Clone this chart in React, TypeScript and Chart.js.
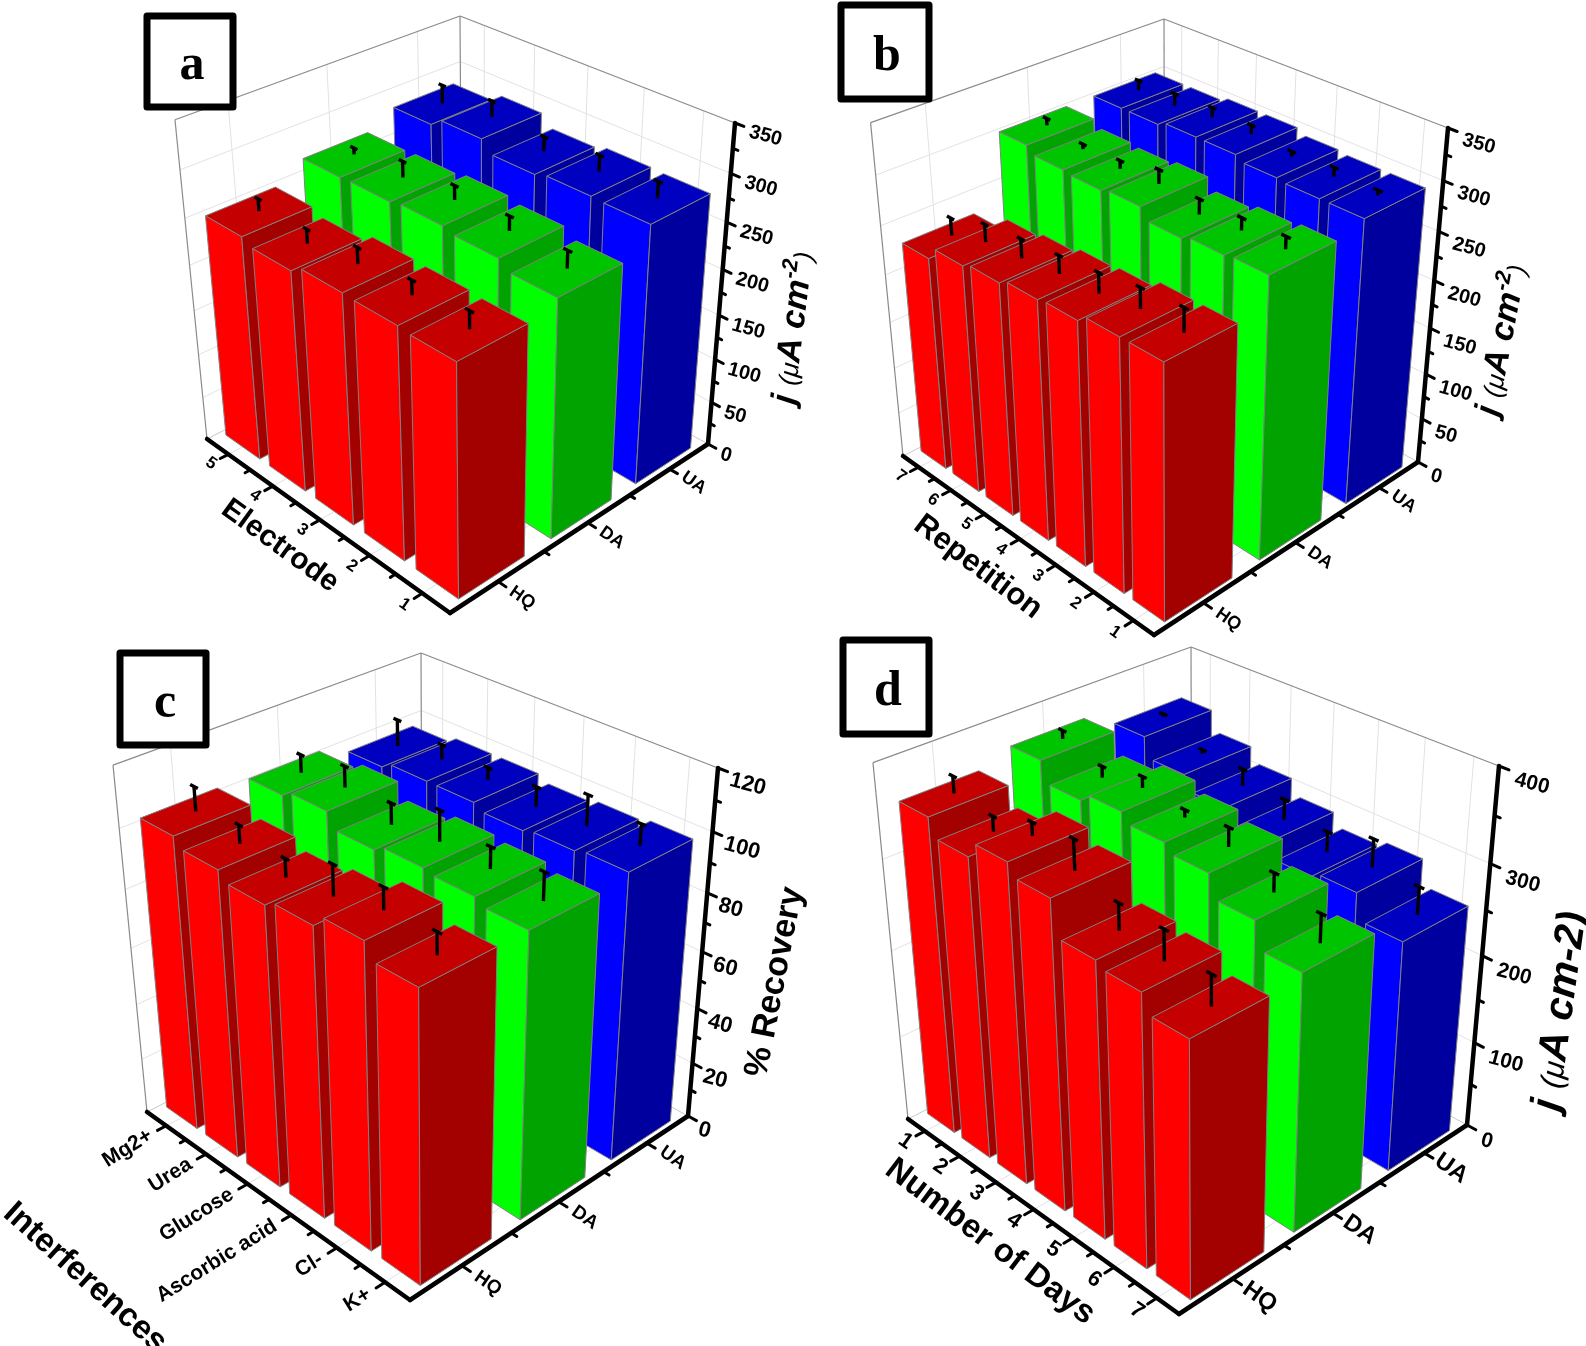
import React, { useEffect, useRef } from "react";
import { Chart, registerables } from "chart.js";

Chart.register(...registerables);

const seriesLabels = ["HQ", "DA", "UA"];
const barColors = [
  ["#ff0000", "#c40000", "#a30000"],
  ["#00ff00", "#00c400", "#00a300"],
  ["#0000ff", "#0000c0", "#00009f"],
];

const electrodes = ["1", "2", "3", "4", "5"];
const aHQ = [248, 250, 251, 243, 249];
const aDA = [258, 267, 271, 268, 267];
const aUA = [283, 284, 280, 292, 283];
const aHQErr = [18, 15, 17, 15, 13];
const aDAErr = [18, 15, 15, 17, 7];
const aUAErr = [17, 17, 15, 17, 20];

const repetitions = ["1", "2", "3", "4", "5", "6", "7"];
const bHQ = [259, 259, 252, 250, 245, 241, 228];
const bDA = [289, 287, 283, 294, 291, 293, 300];
const bUA = [297, 297, 299, 304, 304, 300, 300];
const bHQErr = [23, 20, 20, 18, 19, 18, 18];
const bDAErr = [12, 12, 15, 14, 8, 5, 7];
const bUAErr = [5, 9, 5, 9, 10, 12, 10];

const interferences = ["Mg2+", "Urea", "Glucose", "Ascorbic acid", "Cl-", "K+"];
const cHQ = [102, 99, 96, 98, 102, 97];
const cDA = [101, 103, 98, 100, 99, 97];
const cUA = [97, 99, 99, 97, 98, 99];
const cHQErr = [8, 6, 6, 10, 7, 7];
const cDAErr = [6, 7, 7, 10, 7, 9];
const cUAErr = [9, 5, 4, 6.5, 10, 7];

const days = ["1", "2", "3", "4", "5", "6", "7"];
const dHQ = [356, 337, 354, 341, 304, 298, 279];
const dDA = [369, 347, 356, 346, 337, 313, 285];
const dUA = [351, 329, 313, 296, 282, 288, 260];
const dHQErr = [18, 16, 14, 32, 28, 32, 32];
const dDAErr = [9, 12, 12, 8, 20, 20, 30];
const dUAErr = [3, 4, 18, 22, 22, 30, 30];

type Pt = [number, number];

// page layout of each panel: where the 3D box sits, titles and fonts
const panels: any[] = [
  {
    letter: "a", rect: [0, 0, 830, 645], box: [147, 16, 233, 107],
    front: [450, 613], left: [207, 439], right: [708, 444], topLeft: [175, 120], topRight: [735, 123], topBack: [460, 16],
    labels: electrodes, reverse: false, max: 350, step: 50,
    values: [aHQ, aDA, aUA], errs: [aHQErr, aDAErr, aUAErr],
    catTitle: "Electrode", catPos: [280, 546], catDeg: 36, catSize: 30,
    yTitle: { pos: [794, 405], deg: -83, size: 34, sup: true },
    sizes: { value: 20, cat: 17, series: 18 }, catAngle: 35, catOff: -0.06, valueOff: -0.045, valueDy: 3,
  },
  {
    letter: "b", rect: [830, 0, 756, 645], box: [841, 5, 929, 99],
    front: [1154, 635], left: [903, 456], right: [1418, 462], topLeft: [871, 127], topRight: [1448, 128], topBack: [1164, 19],
    labels: repetitions, reverse: false, max: 350, step: 50,
    values: [bHQ, bDA, bUA], errs: [bHQErr, bDAErr, bUAErr],
    catTitle: "Repetition", catPos: [978, 567], catDeg: 37, catSize: 31,
    yTitle: { pos: [1497, 417], deg: -79, size: 34, sup: true },
    sizes: { value: 20, cat: 17, series: 18 }, catAngle: 35, catOff: -0.06, valueOff: -0.045, valueDy: 6,
  },
  {
    letter: "c", rect: [0, 630, 840, 716], box: [120, 653, 206, 745],
    front: [410, 1300], left: [147, 1112], right: [688, 1116], topLeft: [113, 765], topRight: [718, 768], topBack: [421, 653],
    labels: interferences, reverse: true, max: 120, step: 20,
    values: [cHQ, cDA, cUA], errs: [cHQErr, cDAErr, cUAErr],
    catTitle: "Interferences", catPos: [85, 1278], catDeg: 42, catSize: 33,
    recovery: { pos: [775, 982], deg: -79, size: 34 },
    sizes: { value: 22, cat: 21, series: 19 }, catAngle: -32, catRight: true, catOff: -0.05, valueOff: -0.035, valueDy: 7,
  },
  {
    letter: "d", rect: [800, 630, 786, 716], box: [843, 640, 929, 734],
    front: [1179, 1314], left: [908, 1119], right: [1467, 1125], topLeft: [873, 763], topRight: [1499, 766], topBack: [1191, 647],
    labels: days, reverse: true, max: 400, step: 100,
    values: [dHQ, dDA, dUA], errs: [dHQErr, dDAErr, dUAErr],
    catTitle: "Number of Days", catPos: [990, 1242], catDeg: 37, catSize: 33,
    yTitle: { pos: [1558, 1112], deg: -82, size: 41, sup: false },
    sizes: { value: 21, cat: 22, series: 24 }, catAngle: 35, catOff: -0.06, valueOff: -0.045, valueDy: 7,
  },
];

// floor quad + vanishing point of the verticals -> (u, v, w) to screen
function makeProjection(p: any) {
  const [O, U, V] = [p.front as Pt, p.left as Pt, p.right as Pt];
  const a1 = (p.topLeft[0] - U[0]) / (p.topLeft[1] - U[1]);
  const a2 = (p.topRight[0] - V[0]) / (p.topRight[1] - V[1]);
  const vpY = (V[0] - a2 * V[1] - U[0] + a1 * U[1]) / (a1 - a2);
  const vpX = U[0] + a1 * (vpY - U[1]);
  const build = (by: number) => {
    const bx = p.topBack[0] + ((vpX - p.topBack[0]) * (by - p.topBack[1])) / (vpY - p.topBack[1]);
    const dx1 = U[0] - bx, dx2 = V[0] - bx, sx = O[0] - U[0] + bx - V[0];
    const dy1 = U[1] - by, dy2 = V[1] - by, sy = O[1] - U[1] + by - V[1];
    const den = dx1 * dy2 - dx2 * dy1;
    const g = (sx * dy2 - dx2 * sy) / den;
    const h = (dx1 * sy - sx * dy1) / den;
    const hwV = 1 + h;
    const s = (hwV * (p.topRight[1] - V[1])) / (vpY - p.topRight[1]);
    return (u: number, v: number, w: number): Pt => {
      const W = g * u + h * v + 1;
      const X = (U[0] * (1 + g) - O[0]) * u + (V[0] * (1 + h) - O[0]) * v + O[0];
      const Y = (U[1] * (1 + g) - O[1]) * u + (V[1] * (1 + h) - O[1]) * v + O[1];
      return [(X + w * s * vpX) / (W + w * s), (Y + w * s * vpY) / (W + w * s)];
    };
  };
  // back floor corner is hidden, so find it from the top back corner
  let lo = U[1] - 280, hi = U[1] - 40;
  for (let i = 0; i < 40; i++) {
    const mid = (lo + hi) / 2;
    if (build(mid)(1, 1, 1)[1] < p.topBack[1]) lo = mid;
    else hi = mid;
  }
  return build((lo + hi) / 2);
}

const BAR_U = 0.78;
const BAR_V = 0.7;

function poly(ctx: CanvasRenderingContext2D, pts: Pt[], fill: string) {
  ctx.beginPath();
  pts.forEach((q, i) => (i ? ctx.lineTo(q[0], q[1]) : ctx.moveTo(q[0], q[1])));
  ctx.closePath();
  ctx.fillStyle = fill;
  ctx.fill();
  ctx.strokeStyle = "#808080";
  ctx.lineWidth = 1;
  ctx.stroke();
}

function line(ctx: CanvasRenderingContext2D, a: Pt, b: Pt, color: string, width: number) {
  ctx.beginPath();
  ctx.moveTo(a[0], a[1]);
  ctx.lineTo(b[0], b[1]);
  ctx.strokeStyle = color;
  ctx.lineWidth = width;
  ctx.stroke();
}

function label(ctx: CanvasRenderingContext2D, text: string, pos: Pt, deg: number, font: string, align: CanvasTextAlign) {
  ctx.save();
  ctx.translate(pos[0], pos[1]);
  ctx.rotate((deg * Math.PI) / 180);
  ctx.font = font;
  ctx.fillStyle = "#000";
  ctx.textAlign = align;
  ctx.textBaseline = "middle";
  ctx.fillText(text, 0, 0);
  ctx.restore();
}

function runs(ctx: CanvasRenderingContext2D, pos: Pt, deg: number, parts: { t: string; font: string; dy?: number }[]) {
  ctx.save();
  ctx.translate(pos[0], pos[1]);
  ctx.rotate((deg * Math.PI) / 180);
  ctx.fillStyle = "#000";
  ctx.textAlign = "left";
  ctx.textBaseline = "alphabetic";
  let x = 0;
  parts.forEach((r) => {
    ctx.font = r.font;
    ctx.fillText(r.t, x, r.dy || 0);
    x += ctx.measureText(r.t).width;
  });
  ctx.restore();
}

const SANS = '"Liberation Sans"';

function bars3d(p: any) {
  return {
    id: "bars3d",
    beforeDatasetsDraw(chart: any) {
      const ctx: CanvasRenderingContext2D = chart.ctx;
      const project = makeProjection(p);
      const xs = chart.scales.x, ys = chart.scales.y, zs = chart.scales.series;
      const uOf = (i: number) => (xs.getPixelForValue(i) - xs.left) / xs.width;
      const vOf = (j: number) => (zs.getPixelForValue(j) - zs.left) / zs.width;
      const wOf = (val: number) => (ys.bottom - ys.getPixelForValue(val)) / ys.height;
      const n = p.labels.length;
      const du = BAR_U / n / 2, dv = BAR_V / 3 / 2;

      ctx.save();
      ctx.translate(-p.rect[0], -p.rect[1]);
      ctx.lineCap = "butt";

      // walls and floor grid
      const grid = "#e2e2e6";
      ys.ticks.forEach((t: any) => {
        const w = wOf(t.value);
        if (w <= 0 || w >= 1) return;
        line(ctx, project(1, 0, w), project(1, 1, w), grid, 1);
        line(ctx, project(0, 1, w), project(1, 1, w), grid, 1);
      });
      for (let i = 0; i < n; i++) {
        const u = uOf(i);
        line(ctx, project(u, 1, 0), project(u, 1, 1), grid, 1);
        line(ctx, project(u, 0, 0), project(u, 1, 0), grid, 1);
      }
      for (let j = 0; j < 3; j++) {
        const v = vOf(j);
        line(ctx, project(1, v, 0), project(1, v, 1), grid, 1);
        line(ctx, project(0, v, 0), project(1, v, 0), grid, 1);
      }
      line(ctx, project(1, 0, 0), project(1, 1, 0), "#c8c8c8", 1);
      line(ctx, project(0, 1, 0), project(1, 1, 0), "#c8c8c8", 1);
      const wallEdge = "#8a8a8a";
      line(ctx, project(1, 0, 0), project(1, 0, 1), wallEdge, 1.2);
      line(ctx, project(1, 1, 0), project(1, 1, 1), wallEdge, 1.2);
      line(ctx, project(1, 0, 1), project(1, 1, 1), wallEdge, 1.2);
      line(ctx, project(0, 1, 1), project(1, 1, 1), wallEdge, 1.2);

      // bars, far ones first
      const order: number[][] = [];
      chart.data.datasets.forEach((ds: any, j: number) => ds.data.forEach((_: number, i: number) => order.push([j, i])));
      order.sort((a, b) => vOf(b[0]) - vOf(a[0]) || uOf(b[1]) - uOf(a[1]));
      order.forEach(([j, i]) => {
        const ds = chart.data.datasets[j];
        const u = uOf(i), v = vOf(j), w = wOf(ds.data[i]);
        const u0 = u - du, u1 = u + du, v0 = v - dv, v1 = v + dv;
        const col = barColors[j];
        poly(ctx, [project(u0, v0, 0), project(u1, v0, 0), project(u1, v0, w), project(u0, v0, w)], col[0]);
        poly(ctx, [project(u0, v0, 0), project(u0, v1, 0), project(u0, v1, w), project(u0, v0, w)], col[2]);
        poly(ctx, [project(u0, v0, w), project(u1, v0, w), project(u1, v1, w), project(u0, v1, w)], col[1]);
        const tip = wOf(ds.data[i] + ds.errors[i]);
        line(ctx, project(u, v, w), project(u, v, tip), "#000", 3.4);
        line(ctx, project(u + 0.015, v, tip), project(u - 0.015, v, tip), "#000", 3.4);
      });

      // axes
      ctx.lineCap = "round";
      line(ctx, project(1, 0, 0), project(0, 0, 0), "#000", 4.5);
      line(ctx, project(0, 0, 0), project(0, 1, 0), "#000", 4.5);
      line(ctx, project(0, 1, 0), project(0, 1, 1), "#000", 4.5);
      for (let i = 0; i < n; i++) {
        const u = uOf(i);
        line(ctx, project(u, 0, 0), project(u, -0.028, 0), "#000", 3);
        const k = (i + 1) / n;
        if (i < n - 1) line(ctx, project(k, 0, 0), project(k, -0.018, 0), "#000", 3);
        const text = xs.getLabelForValue(i);
        label(ctx, text, project(u, p.catOff, 0), p.catAngle, `bold ${p.sizes.cat}px ${SANS}`, p.catRight ? "right" : "center");
      }
      for (let j = 0; j < 3; j++) {
        const v = vOf(j);
        line(ctx, project(0, v, 0), project(-0.028, v, 0), "#000", 3);
        const k = (j + 1) / 3;
        if (j < 2) line(ctx, project(0, k, 0), project(-0.018, k, 0), "#000", 3);
        label(ctx, zs.getLabelForValue(j), project(-0.085, v, 0), 35, `bold ${p.sizes.series}px ${SANS}`, "center");
      }
      ys.ticks.forEach((t: any) => {
        const w = wOf(t.value);
        line(ctx, project(0, 1, w), project(-0.028, 1, w), "#000", 3);
        if (t.value < p.max) {
          const wm = wOf(t.value + p.step / 2);
          line(ctx, project(0, 1, wm), project(-0.016, 1, wm), "#000", 3);
        }
        const q = project(p.valueOff, 1, w);
        label(ctx, String(t.value), [q[0], q[1] + p.valueDy], 15, `bold ${p.sizes.value}px ${SANS}`, "left");
      });

      // titles
      label(ctx, p.catTitle, p.catPos, p.catDeg, `bold ${p.catSize}px ${SANS}`, "center");
      if (p.recovery) {
        label(ctx, "% Recovery", p.recovery.pos, p.recovery.deg, `bold ${p.recovery.size}px ${SANS}`, "center");
      }
      if (p.yTitle) {
        const s = p.yTitle.size;
        const big = `italic bold ${s}px ${SANS}`;
        const small = `italic ${Math.round(s * 0.75)}px ${SANS}`;
        runs(ctx, p.yTitle.pos, p.yTitle.deg, p.yTitle.sup
          ? [
              { t: "j ", font: big },
              { t: "(μ", font: small },
              { t: "A cm", font: big },
              { t: "-2", font: `italic bold ${Math.round(s * 0.65)}px ${SANS}`, dy: -s * 0.4 },
              { t: ")", font: small },
            ]
          : [
              { t: "j ", font: big },
              { t: "(μ", font: small },
              { t: "A cm-2)", font: big },
            ]);
      }

      // letter box
      const [bx0, by0, bx1, by1] = p.box;
      ctx.fillStyle = "#fff";
      ctx.fillRect(bx0, by0, bx1 - bx0, by1 - by0);
      ctx.strokeStyle = "#000";
      ctx.lineWidth = 7;
      ctx.lineJoin = "round";
      ctx.strokeRect(bx0, by0, bx1 - bx0, by1 - by0);
      label(ctx, p.letter, [(bx0 + bx1) / 2 + 2, (by0 + by1) / 2 + 5], 0, 'bold 50px "Liberation Serif"', "center");
      ctx.restore();
      return false;
    },
  };
}

const Panel: React.FC<{ p: any }> = ({ p }) => {
  const ref = useRef<HTMLCanvasElement | null>(null);
  useEffect(() => {
    if (!ref.current) return;
    const chart = new Chart(ref.current, {
      type: "bar",
      data: {
        labels: p.labels,
        datasets: seriesLabels.map((s, j) => ({ label: s, data: p.values[j], errors: p.errs[j] })) as any,
      },
      options: {
        animation: false,
        responsive: false,
        plugins: { legend: { display: false }, tooltip: { enabled: false } },
        scales: {
          x: { type: "category", display: false, offset: true, reverse: p.reverse },
          y: { type: "linear", display: false, min: 0, max: p.max, ticks: { stepSize: p.step } },
          series: { type: "category", axis: "x", labels: seriesLabels, display: false, offset: true },
        } as any,
      },
      plugins: [bars3d(p)],
    });
    return () => chart.destroy();
  }, []);
  return (
    <canvas
      ref={ref}
      width={p.rect[2]}
      height={p.rect[3]}
      style={{ position: "absolute", left: p.rect[0], top: p.rect[1], width: p.rect[2], height: p.rect[3] }}
    />
  );
};

export default function App() {
  return (
    <div style={{ position: "absolute", left: 0, top: 0, width: 1586, height: 1346, background: "#fff", overflow: "hidden" }}>
      {panels.map((p) => (
        <Panel key={p.letter} p={p} />
      ))}
    </div>
  );
}
